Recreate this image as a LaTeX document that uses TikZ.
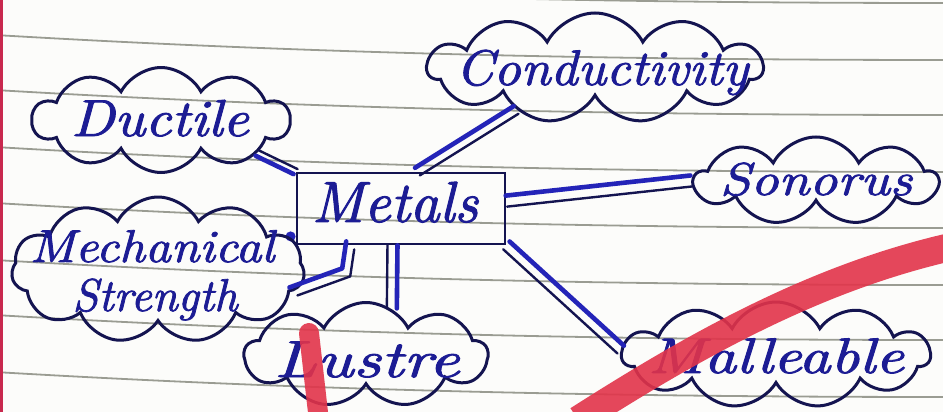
\documentclass[tikz,border=0pt]{standalone}
\usepackage{fontspec}
\usetikzlibrary{shapes.symbols}
\newfontfamily\hand{lmroman10-italic.otf}[FakeBold=1.6]
\definecolor{paper}{HTML}{FCFCFA}
\definecolor{ruling}{HTML}{8A8C80}
\definecolor{marginred}{HTML}{C8284E}
\definecolor{ink}{HTML}{141450}
\definecolor{inkblue}{HTML}{2424B8}
\definecolor{textblue}{HTML}{1C1C94}
\definecolor{marker}{HTML}{E2344A}

\begin{document}
\begin{tikzpicture}[x=1pt,y=-1pt,
  bubble/.style={cloud, draw=ink, line width=3pt, cloud ignores aspect,
    inner sep=0pt, cloud puff arc=125},
  word/.style={text=textblue, font=\fontsize{#1}{#1}\selectfont\hand,
    inner sep=0pt, anchor=base},
  metalsbox/.style={rectangle, draw=ink, line width=2.8pt, inner sep=0pt},
  strong/.style={draw=inkblue, line width=4.6pt, line cap=round, line join=round},
  fine/.style={draw=ink, line width=2.4pt, line cap=round, line join=round},
  rule/.style={draw=ruling, line width=1.8pt, opacity=0.85},
  highlight/.style={draw=marker, opacity=0.9}
]
\useasboundingbox (0,0) rectangle (943,412);
\clip (0,0) rectangle (943,412);

% ruled notebook paper
\fill[paper] (0,0) rectangle (943,412);
\foreach \y in {-22,35,90,147,203,260,315,372,428}
  \draw[rule] (-5,\y) .. controls (300,\y+18) and (600,\y+25) .. (950,\y+25);
\draw[draw=marginred, line width=3pt] (1.5,0) -- (1.5,412);

% central box
\node[metalsbox, minimum width=208pt, minimum height=71pt] (metals) at (401,208.5) {};
\node[word=58] (metals-t) at (395,222) {Metals};
\node[circle, fill=inkblue, inner sep=0pt, minimum size=10pt] (dot)
  at ([shift={(-5pt,9pt)}]metals.south west) {};

% clouds
\node[bubble, cloud puffs=10, minimum width=257pt, minimum height=105pt] (ductile) at (161,120) {};
\node[word=52] (ductile-t) at (160,136) {\scalebox{1.1}[1]{Ductile}};

\node[bubble, cloud puffs=11, minimum width=335pt, minimum height=110pt] (conductivity) at (595,68) {};
\node[word=50] (conductivity-t) at (602,85) {\scalebox{1.06}[1]{Conductivity}};

\node[bubble, cloud puffs=9, minimum width=243pt, minimum height=88pt] (sonorus) at (816,181) {};
\node[word=46] (sonorus-t) at (816,195) {\scalebox{1.19}[1]{Sonorus}};

\node[bubble, cloud puffs=11, minimum width=293pt, minimum height=146pt] (mech) at (158,270) {};
\node[word=46] (mech-t1) at (152,262) {\scalebox{1.1}[1]{Mechanical}};
\node[word=46] (mech-t2) at (155,311) {Strength};

\node[bubble, cloud puffs=9, minimum width=243pt, minimum height=105pt] (lustre) at (366,355) {};
\node[word=52] (lustre-t) at (367,377) {\scalebox{1.3}[1]{Lustre}};

\node[bubble, cloud puffs=11, minimum width=308pt, minimum height=106pt] (malleable) at (776,355) {};
\node[word=50] (malleable-t) at (776,373) {\scalebox{1.25}[1]{Malleable}};

% double-stroke connectors
\draw[strong, transform canvas={shift={(-2pt,-2.5pt)}}] (ductile.-19) -- (metals.north west);
\draw[fine,   transform canvas={shift={(2pt,2.5pt)}}]   (ductile.-19) -- (metals.north west);

\draw[strong, transform canvas={shift={(-2.4pt,3.8pt)}}] (conductivity.208) -- (metals.66);
\draw[fine,   transform canvas={shift={(2.4pt,-3.8pt)}}] (conductivity.208) -- (metals.66);

\draw[strong, transform canvas={shift={(-0.7pt,5.5pt)}}] (sonorus.180) -- (metals.4);
\draw[fine,   transform canvas={shift={(0.7pt,-5.5pt)}}] (sonorus.180) -- (metals.4);

\draw[strong, transform canvas={shift={(3.2pt,3.9pt)}}]   (metals.south east) -- (malleable.178);
\draw[fine,   transform canvas={shift={(-3.2pt,-3.9pt)}}] (metals.south east) -- (malleable.178);

\draw[strong, transform canvas={shift={(5pt,0pt)}}]  (metals.-103) -- (lustre.61);
\draw[fine,   transform canvas={shift={(-5pt,0pt)}}] (metals.-103) -- (lustre.61);

\draw[strong, transform canvas={shift={(-4pt,4pt)}}]  (metals.-144) -- ++(-4,27) -- (mech.-9);
\draw[fine,   transform canvas={shift={(4pt,-4pt)}}]  (metals.-144) -- ++(-4,27) -- (mech.-9);

% red marker strokes
\draw[highlight, line width=20pt, line cap=round] (309,333) -- (320,430);
\draw[highlight, line width=28pt] (578,420) .. controls (700,342) and (820,276) .. (955,246);
\end{tikzpicture}
\end{document}
